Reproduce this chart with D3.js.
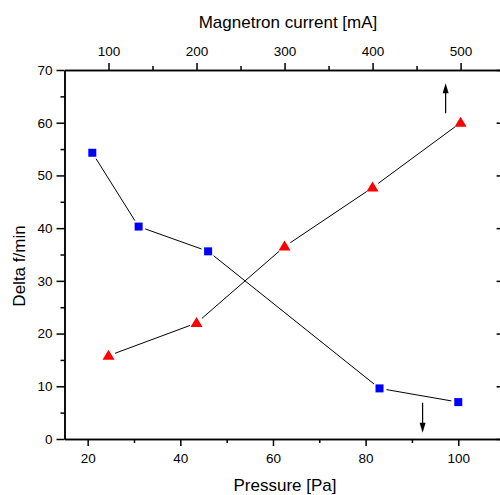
<!DOCTYPE html>
<html>
<head>
<meta charset="utf-8">
<title>Delta f vs pressure and magnetron current</title>
<script src="https://cdn.jsdelivr.net/npm/d3@7"></script>
<style>
  body { margin: 0; background: #fff; }
  svg text { font-family: "Liberation Sans", Arial, Helvetica, sans-serif; fill: #000; }
  .axis path, .axis line { stroke: #000; stroke-width: 1.5; }
  .axis text { font-size: 13.5px; }
</style>
</head>
<body>
<script>
// blue squares: bottom axis (pressure)
var pressure = [21, 31, 46, 83, 100];
var deltaP = [54.3, 40.3, 35.6, 9.6, 7.0];

// red triangles: top axis (magnetron current)
var current = [100, 200, 300, 400, 500];
var deltaI = [15.8, 22.0, 36.5, 47.7, 60.0];

// tick values
var pTicks = [20, 40, 60, 80, 100], pMinor = [30, 50, 70, 90];
var iTicks = [100, 200, 300, 400, 500], iMinor = [150, 250, 350, 450];
var yTicks = [0, 10, 20, 30, 40, 50, 60, 70], yMinor = [5, 15, 25, 35, 45, 55, 65];

// arrows telling which axis belongs to which series
var arrowUp = {x: 483, from: 61.8, to: 67.5};   // top axis
var arrowDown = {x: 92.3, from: 6.9, to: 1.2};  // bottom axis

var W = 500, H = 495;
var plotL = 64.5, plotR = 504.6, plotT = 70, plotB = 439;

var x = d3.scaleLinear().domain([15, 110]).range([plotL, plotR]);
var xTop = d3.scaleLinear().domain([50, 550]).range([plotL, plotR]);
var y = d3.scaleLinear().domain([0, 70]).range([plotB, plotT]);

var svg = d3.select("body").append("svg")
    .attr("width", W)
    .attr("height", H);

// axes
function axis(gen, tr, vals, size, labels, pad) {
  var g = svg.append("g").attr("class", "axis")
      .attr("transform", tr)
      .call(gen.tickValues(vals).tickSize(size).tickSizeOuter(0)
        .tickPadding(pad || 3)
        .tickFormat(labels ? d3.format("d") : ""));
  g.attr("font-size", null).attr("font-family", null);
  return g;
}
axis(d3.axisBottom(x), "translate(0," + plotB + ")", pTicks, 7, true, 7);
axis(d3.axisBottom(x), "translate(0," + plotB + ")", pMinor, 4, false);
axis(d3.axisTop(xTop), "translate(0," + plotT + ")", iTicks, 7, true, 7);
axis(d3.axisTop(xTop), "translate(0," + plotT + ")", iMinor, 4, false);
axis(d3.axisLeft(y), "translate(" + plotL + ",0)", yTicks, 8, true, 4);
axis(d3.axisLeft(y), "translate(" + plotL + ",0)", yMinor, 4, false);
axis(d3.axisLeft(y), "translate(" + plotR + ",0)", yTicks, 8, false);

// axis titles
svg.append("text")
    .attr("x", 285).attr("y", 491)
    .attr("text-anchor", "middle")
    .style("font-size", "17px")
    .text("Pressure [Pa]");
svg.append("text")
    .attr("x", 288).attr("y", 27.5)
    .attr("text-anchor", "middle")
    .style("font-size", "17px")
    .text("Magnetron current [mA]");
svg.append("text")
    .attr("transform", "translate(25,266) rotate(-90)")
    .attr("text-anchor", "middle")
    .style("font-size", "17px")
    .text("Delta f/min");

// connecting lines with a small gap at each marker
var gap = 7;
function connect(pts) {
  for (var i = 0; i < pts.length - 1; i++) {
    var a = pts[i], b = pts[i + 1];
    var dx = b[0] - a[0], dy = b[1] - a[1], len = Math.sqrt(dx * dx + dy * dy);
    var ux = dx / len, uy = dy / len;
    svg.append("line")
        .attr("x1", a[0] + ux * gap).attr("y1", a[1] + uy * gap)
        .attr("x2", b[0] - ux * gap).attr("y2", b[1] - uy * gap)
        .attr("stroke", "#000").attr("stroke-width", 1);
  }
}
var ptsP = pressure.map(function(d, i) { return [x(d), y(deltaP[i])]; });
var ptsI = current.map(function(d, i) { return [xTop(d), y(deltaI[i])]; });
connect(ptsP);
connect(ptsI);

svg.selectAll(".sq")
    .data(ptsP)
  .enter().append("rect")
    .attr("x", function(d) { return d[0] - 4; })
    .attr("y", function(d) { return d[1] - 4; })
    .attr("width", 8).attr("height", 8)
    .attr("fill", "#0000ff");

svg.selectAll(".tri")
    .data(ptsI)
  .enter().append("path")
    .attr("d", function(d) {
      return "M" + d[0] + "," + (d[1] - 6) + "L" + (d[0] + 6) + "," + (d[1] + 4) +
             "L" + (d[0] - 6) + "," + (d[1] + 4) + "Z";
    })
    .attr("fill", "#ff0000");

// arrows
function arrow(px, y1, y2) {
  var dir = y2 > y1 ? 1 : -1;
  svg.append("line")
      .attr("x1", px).attr("y1", y1)
      .attr("x2", px).attr("y2", y2 - dir * 8)
      .attr("stroke", "#000").attr("stroke-width", 1.2);
  svg.append("path")
      .attr("d", "M" + px + "," + y2 + "L" + (px - 3) + "," + (y2 - dir * 10) +
                 "L" + (px + 3) + "," + (y2 - dir * 10) + "Z")
      .attr("fill", "#000");
}
arrow(xTop(arrowUp.x), y(arrowUp.from), y(arrowUp.to));
arrow(x(arrowDown.x), y(arrowDown.from), y(arrowDown.to));
</script>
</body>
</html>
